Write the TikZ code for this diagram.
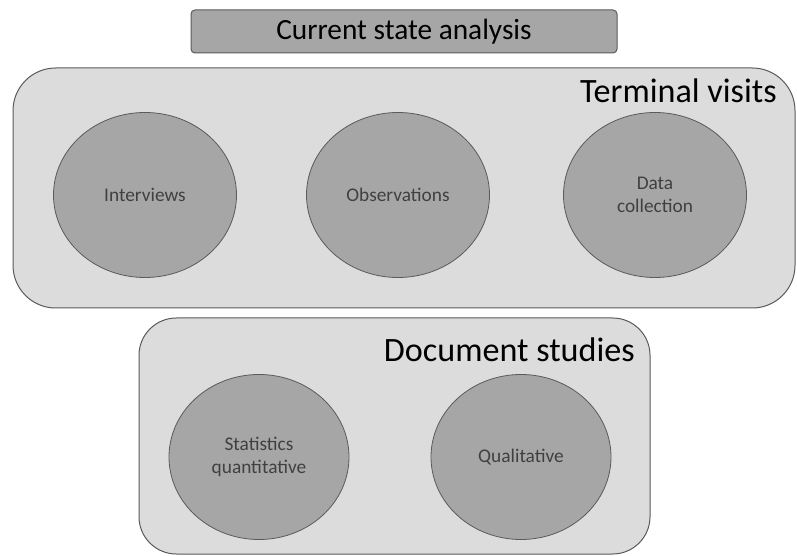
\documentclass[tikz,border=0pt]{standalone}
\usepackage{fontspec}
\setmainfont{Carlito}
\usetikzlibrary{shapes.geometric}
\definecolor{panelfill}{HTML}{DCDCDC}
\definecolor{bubblefill}{HTML}{A6A6A6}
\definecolor{edgegray}{HTML}{5A5A5A}
\definecolor{labelgray}{HTML}{404040}
\begin{document}
\begin{tikzpicture}[x=0.75pt,y=-0.75pt,
  panel/.style={draw=edgegray, fill=panelfill, line width=0.75pt},
  bubble/.style={ellipse, draw=edgegray, fill=bubblefill, line width=0.6pt,
    inner sep=0pt, text=labelgray, font=\fontsize{14.5pt}{17.5pt}\selectfont, align=center},
  titlebar/.style={draw=edgegray, fill=bubblefill, line width=0.75pt, rounded corners=3pt},
  heading/.style={font=\fontsize{25.6pt}{30pt}\selectfont, text=black, inner sep=0pt, anchor=base east}]
\useasboundingbox (0,0) rectangle (797,556);
\fill[white] (0,0) rectangle (797,556);

% title bar
\draw[titlebar] (191,10) rectangle (617,53);
\node[font=\fontsize{22pt}{26pt}\selectfont, inner sep=0pt] (title) at (404,32) {Current state analysis};

% terminal visits panel
\draw[panel, rounded corners=32pt] (13,68) rectangle (795,308);
\node[heading] (tv) at (777,103) {Terminal visits};
\node[bubble, minimum width=137.25pt, minimum height=123.75pt] (intv) at (145,195) {Interviews};
\node[bubble, minimum width=137.25pt, minimum height=123.75pt] (obs) at (398,195) {Observations};
\node[bubble, minimum width=137.25pt, minimum height=123.75pt] (data) at (655,195) {Data\\collection};

% document studies panel
\draw[panel, rounded corners=28pt] (139,318) rectangle (650,554);
\node[heading] (ds) at (635,361) {Document studies};
\node[bubble, minimum width=135pt, minimum height=123.75pt] (stat) at (259,457) {Statistics\\quantitative};
\node[bubble, minimum width=135pt, minimum height=123.75pt] (qual) at (521,457) {Qualitative};
\end{tikzpicture}
\end{document}
